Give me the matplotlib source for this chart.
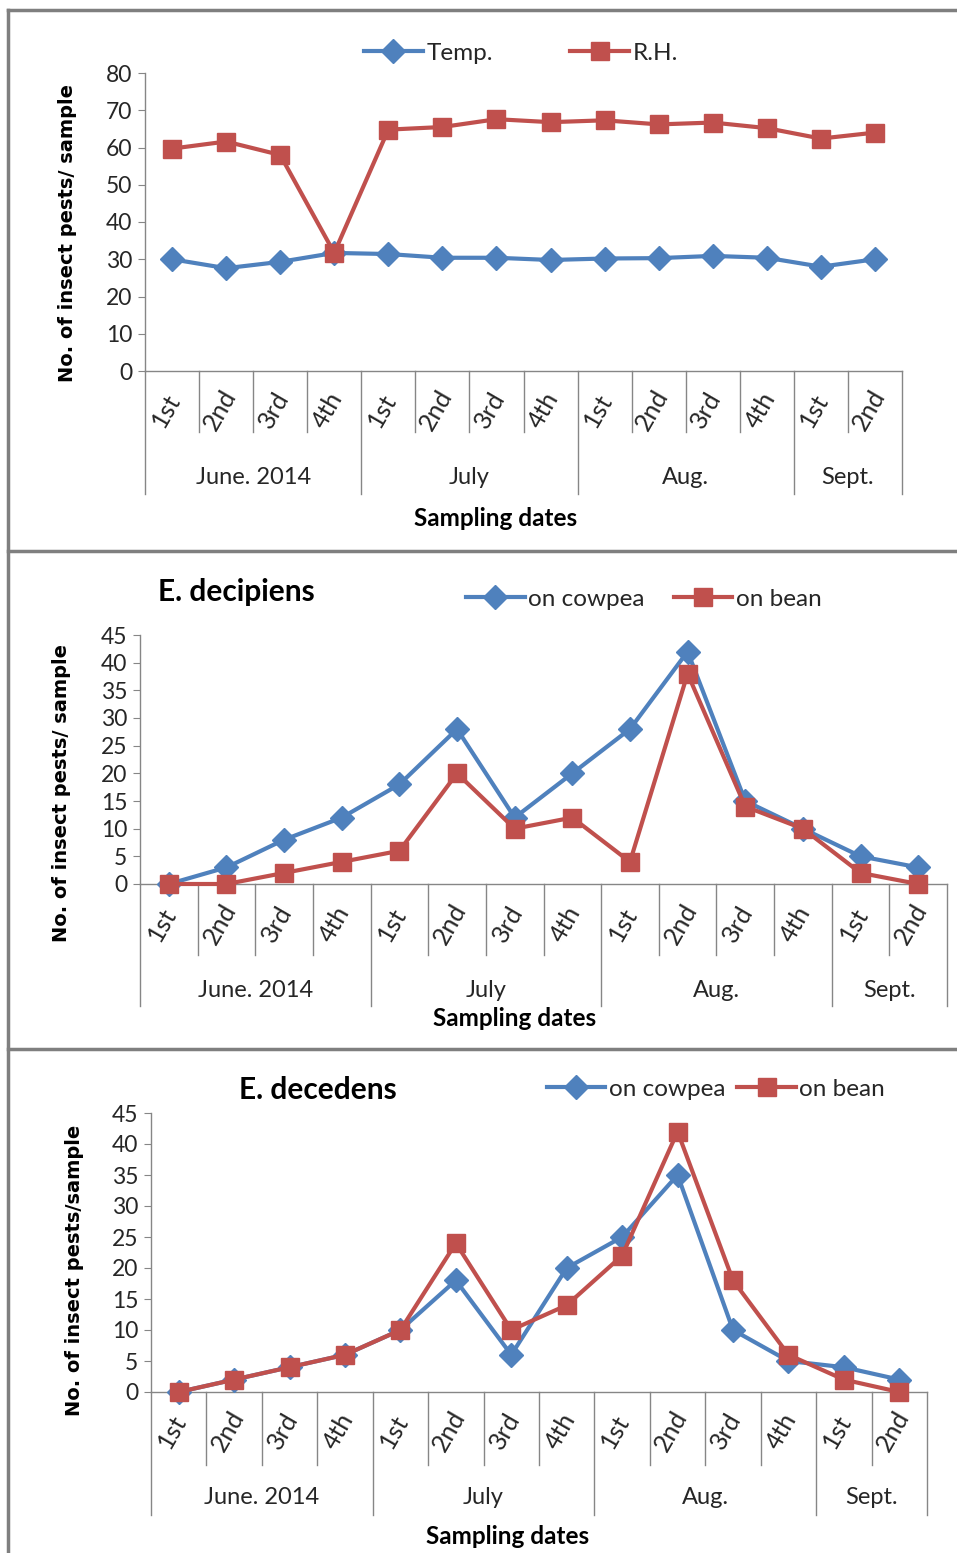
"""
Seasonal counts of Empoasca spp. on cowpea and bean, with temperature and RH.
Three stacked panels, two-level category axis (week / month).
"""

import matplotlib
matplotlib.use("Agg")
import matplotlib.pyplot as plt
import matplotlib.transforms as mtransforms
from matplotlib.lines import Line2D

plt.rcParams["font.family"] = ["Lato", "DejaVu Sans"]

weeks = ["1st", "2nd", "3rd", "4th", "1st", "2nd", "3rd", "4th",
         "1st", "2nd", "3rd", "4th", "1st", "2nd"]
months = ["June. 2014", "July", "Aug.", "Sept."]
month_sizes = [4, 4, 4, 2]

temp = [30, 27.6, 29.3, 31.7, 31.4, 30.4, 30.4, 29.8, 30.2, 30.3, 30.9, 30.4, 28, 30]
rh = [59.7, 61.6, 58, 31.7, 64.8, 65.5, 67.6, 66.8, 67.3, 66.2, 66.7, 65.2, 62.4, 64]

decipiens_cowpea = [0, 3, 8, 12, 18, 28, 12, 20, 28, 42, 15, 10, 5, 3]
decipiens_bean = [0, 0, 2, 4, 6, 20, 10, 12, 4, 38, 14, 10, 2, 0]

decedens_cowpea = [0, 2, 4, 6, 10, 18, 6, 20, 25, 35, 10, 5, 4, 2]
decedens_bean = [0, 2, 4, 6, 10, 24, 10, 14, 22, 42, 18, 6, 2, 0]

BLUE = "#4F81BD"
RED = "#C0504D"
GRAY = "#868686"
TXT = "#262626"

W, H = 957, 1553
fig = plt.figure(figsize=(W / 100, H / 100), dpi=100)


def fx(x):
    return x / W


def fy(y):
    return 1 - y / H


def add_ax(left, top, right, bottom):
    return fig.add_axes([fx(left), fy(bottom), (right - left) / W, (bottom - top) / H])


def draw_panel(box, ymax, ystep, series, labels, tick_y, inner_y, month_y, group_y,
               xlabel_xy, ylabel_xy, ylabel, legend_xy, colspace, title=None):
    ax = add_ax(*box)
    x = list(range(len(weeks)))
    styles = [dict(color=BLUE, marker="D", ms=12), dict(color=RED, marker="s", ms=13)]
    handles = []
    for vals, lab, st in zip(series, labels, styles):
        h, = ax.plot(x, vals, lw=3, color=st["color"], marker=st["marker"],
                     ms=st["ms"], mec=st["color"], label=lab, clip_on=False, zorder=3)
        handles.append(h)

    ax.set_xlim(-0.5, len(weeks) - 0.5)
    ax.set_ylim(0, ymax)
    ax.set_yticks(range(0, ymax + 1, ystep))
    ax.set_xticks([])
    for s in ["top", "right"]:
        ax.spines[s].set_visible(False)
    for s in ["left", "bottom"]:
        ax.spines[s].set_color(GRAY)
        ax.spines[s].set_linewidth(1)
    ax.tick_params(axis="y", direction="out", length=5, color=GRAY,
                   labelsize=16.5, labelcolor=TXT, pad=4)

    blend = mtransforms.blended_transform_factory(ax.transData, fig.transFigure)
    axis_y = box[3]
    # week dividers and month dividers
    bounds = [0]
    for n in month_sizes:
        bounds.append(bounds[-1] + n)
    for i in range(len(weeks) + 1):
        low = group_y if i in bounds else inner_y
        ax.add_line(Line2D([i - 0.5, i - 0.5], [fy(axis_y), fy(low)], transform=blend,
                           color=GRAY, lw=1, clip_on=False))
    for i, w in enumerate(weeks):
        ax.text(i - 0.12, fy(tick_y), w, transform=blend, rotation=60,
                ha="center", va="center", rotation_mode="anchor",
                fontsize=18, color=TXT)
    for k, m in enumerate(months):
        c = (bounds[k] + bounds[k + 1] - 1) / 2
        ax.text(c, fy(month_y), m, transform=blend, ha="center", va="center",
                fontsize=17, color=TXT)

    fig.text(fx(xlabel_xy[0]), fy(xlabel_xy[1]), "Sampling dates", ha="center",
             va="center", fontsize=17.5, fontweight="bold", color="black")
    fig.text(fx(ylabel_xy[0]), fy(ylabel_xy[1]), ylabel, rotation=90, ha="center",
             va="center", fontsize=14, fontweight="bold", family="DejaVu Sans",
             color="black")
    if title:
        fig.text(fx(title[1]), fy(title[2]), title[0], ha="center", va="center",
                 fontsize=21.5, fontweight="bold", color="black")

    ax.legend(handles=handles, loc="center", ncol=2, frameon=False,
              bbox_to_anchor=(fx(legend_xy[0]), fy(legend_xy[1])),
              bbox_transform=fig.transFigure, fontsize=17.5, handlelength=2.4,
              handletextpad=0.15, columnspacing=colspace, labelcolor=TXT)
    return ax


draw_panel((145, 73, 902, 371), 80, 10, [temp, rh], ["Temp.", "R.H."],
           tick_y=410, inner_y=432, month_y=477, group_y=494,
           xlabel_xy=(496, 519), ylabel_xy=(68, 233),
           ylabel="No. of insect pests/ sample", legend_xy=(521, 53), colspace=3.2)

draw_panel((140, 635, 947, 884), 45, 5, [decipiens_cowpea, decipiens_bean],
           ["on cowpea", "on bean"],
           tick_y=924, inner_y=955, month_y=990, group_y=1006,
           xlabel_xy=(515, 1018), ylabel_xy=(62, 793),
           ylabel="No. of insect pests/ sample", legend_xy=(644, 599), colspace=1.2,
           title=("E. decipiens", 236, 592))

draw_panel((151, 1113, 927, 1392), 45, 5, [decedens_cowpea, decedens_bean],
           ["on cowpea", "on bean"],
           tick_y=1431, inner_y=1465, month_y=1498, group_y=1515,
           xlabel_xy=(508, 1536), ylabel_xy=(75, 1270),
           ylabel="No. of insect pests/sample", legend_xy=(716, 1089), colspace=0.5,
           title=("E. decedens", 318, 1090))

# panel frames (right side runs off the image)
frame = dict(color="#7F7F7F", lw=2.5, transform=fig.transFigure)
fig.add_artist(Line2D([fx(8), fx(8)], [fy(10), fy(1553)], **frame))
fig.add_artist(Line2D([fx(8), fx(957)], [fy(10), fy(10)], **frame))
fig.add_artist(Line2D([fx(8), fx(957)], [fy(551), fy(551)], **frame))
fig.add_artist(Line2D([fx(8), fx(957)], [fy(1049), fy(1049)], **frame))

fig.savefig("out.png", dpi=100)
